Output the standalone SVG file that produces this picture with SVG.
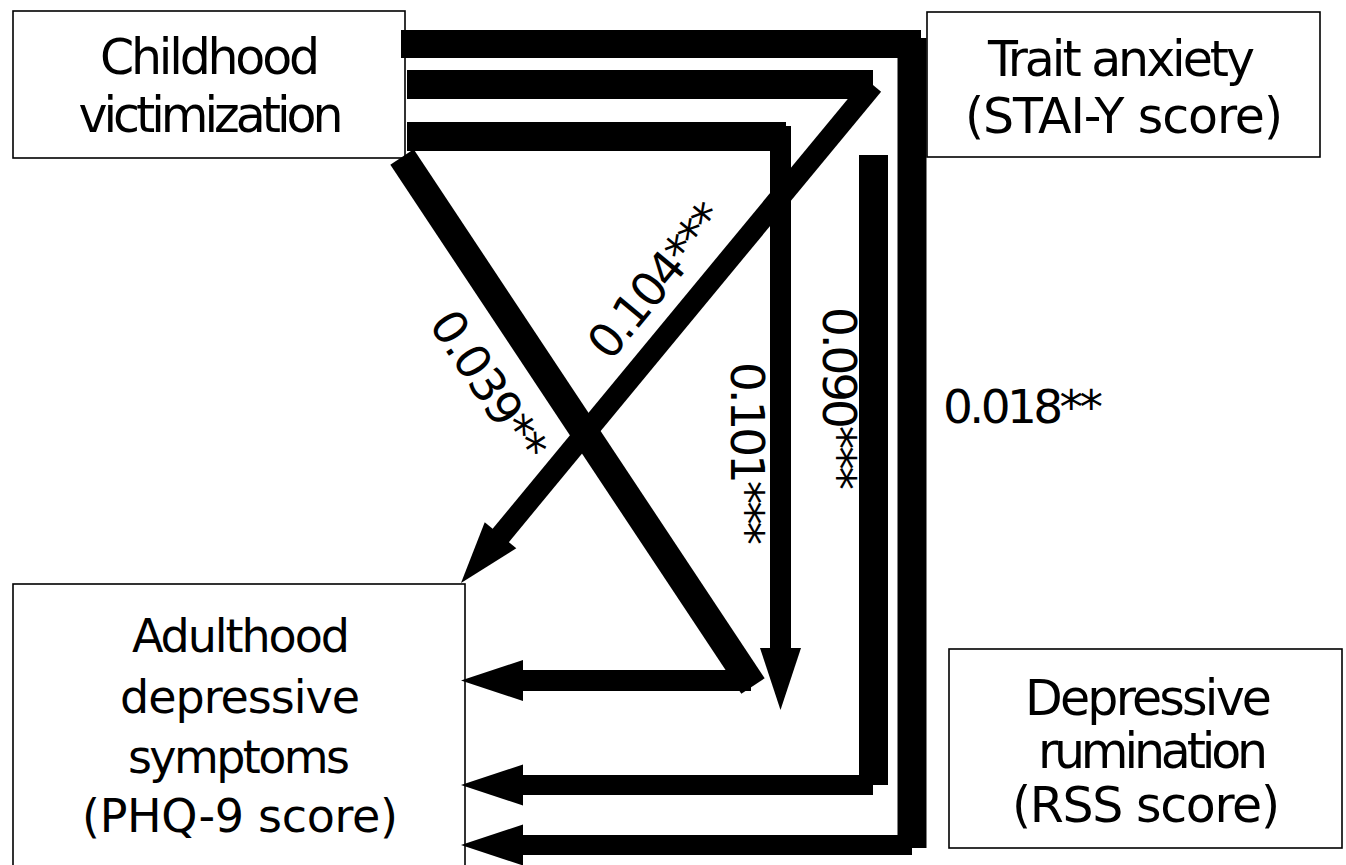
<svg xmlns="http://www.w3.org/2000/svg" width="1346" height="865" viewBox="0 0 1346 865">
<style>
.box{fill:#fff;stroke:#000;stroke-width:1.6}
.t{font-family:"DejaVu Sans","Liberation Sans",sans-serif;fill:#000;text-anchor:middle}
.lbl{font-family:"DejaVu Sans","Liberation Sans",sans-serif;fill:#000;font-size:47px}
.w29{stroke:#000;stroke-width:29;stroke-linecap:butt;fill:none}
.w28{stroke:#000;stroke-width:28;stroke-linecap:butt;fill:none}
.w21{stroke:#000;stroke-width:21;stroke-linecap:butt;fill:none}
.w20{stroke:#000;stroke-width:20;stroke-linecap:butt;fill:none}
</style>
<defs>
<path id="ah" d="M0,0 L-62,-20.5 L-62,20.5 Z" fill="#000"/>
</defs>
<rect width="1346" height="865" fill="#fff"/>
<g id="node-childhood">
<rect class="box" x="13" y="11" width="392" height="147"/>
<text class="t" font-size="49" x="210" y="74" textLength="220" lengthAdjust="spacing">Childhood</text>
<text class="t" font-size="49" x="211" y="132" textLength="265" lengthAdjust="spacing">victimization</text>
</g>
<g id="node-trait">
<rect class="box" x="927" y="12" width="393" height="145"/>
<text class="t" font-size="49" x="1121.5" y="76" textLength="267" lengthAdjust="spacing">Trait anxiety</text>
<text class="t" font-size="49" x="1124" y="133" textLength="318" lengthAdjust="spacing">(STAI-Y score)</text>
</g>
<g id="node-rumination">
<rect class="box" x="949" y="649" width="393" height="199"/>
<text class="t" font-size="49" x="1148.5" y="715" textLength="247" lengthAdjust="spacing">Depressive</text>
<text class="t" font-size="49" x="1153" y="768" textLength="230" lengthAdjust="spacing">rumination</text>
<text class="t" font-size="49" x="1146" y="822" textLength="268" lengthAdjust="spacing">(RSS score)</text>
</g>
<g id="node-adulthood">
<rect class="box" x="13" y="584" width="452" height="300"/>
<text class="t" font-size="46" x="241" y="652" textLength="218" lengthAdjust="spacing">Adulthood</text>
<text class="t" font-size="46" x="240" y="713" textLength="240" lengthAdjust="spacing">depressive</text>
<text class="t" font-size="46" x="239" y="773" textLength="222" lengthAdjust="spacing">symptoms</text>
<text class="t" font-size="46" x="240" y="832" textLength="316" lengthAdjust="spacing">(PHQ-9 score)</text>
</g>
<g id="connectors">
<!-- 0.018** -->
<line class="w28" x1="401" y1="44" x2="921" y2="44"/>
<line class="w29" x1="912" y1="38" x2="912" y2="848"/>
<line class="w20" x1="912" y1="845" x2="515" y2="845"/>
<use href="#ah" transform="translate(461,845) rotate(180)"/>
<!-- 0.104*** -->
<line class="w29" x1="407" y1="84.5" x2="873" y2="84.5"/>
<line class="w21" x1="873" y1="85" x2="497" y2="540"/>
<use href="#ah" transform="translate(461,583) rotate(129.6)"/>
<!-- 0.101*** -->
<line class="w29" x1="407" y1="136.5" x2="786" y2="136.5"/>
<line class="w21" x1="780.5" y1="126" x2="780.5" y2="652"/>
<use href="#ah" transform="translate(780.5,710) rotate(90)"/>
<!-- 0.090*** -->
<line class="w29" x1="873.5" y1="155" x2="873.5" y2="785"/>
<line class="w20" x1="873" y1="785" x2="515" y2="785"/>
<use href="#ah" transform="translate(461,785) rotate(180)"/>
<!-- 0.039** -->
<line class="w28" x1="402" y1="157" x2="753" y2="686"/>
<line class="w21" x1="751" y1="680.5" x2="515" y2="680.5"/>
<use href="#ah" transform="translate(461,680.5) rotate(180)"/>
</g>
<g id="labels">
<text class="lbl" x="943" y="423" textLength="160" lengthAdjust="spacing">0.018**</text>
<text class="lbl" transform="translate(823,307) rotate(90)" textLength="183" lengthAdjust="spacing">0.090***</text>
<text class="lbl" transform="translate(731,362) rotate(90)" textLength="183" lengthAdjust="spacing">0.101***</text>
<text class="lbl" text-anchor="middle" transform="translate(669,291) rotate(-50.4)" textLength="185" lengthAdjust="spacing">0.104***</text>
<text class="lbl" text-anchor="middle" transform="translate(475,395) rotate(56.5)" textLength="170" lengthAdjust="spacing">0.039**</text>
</g>
</svg>
